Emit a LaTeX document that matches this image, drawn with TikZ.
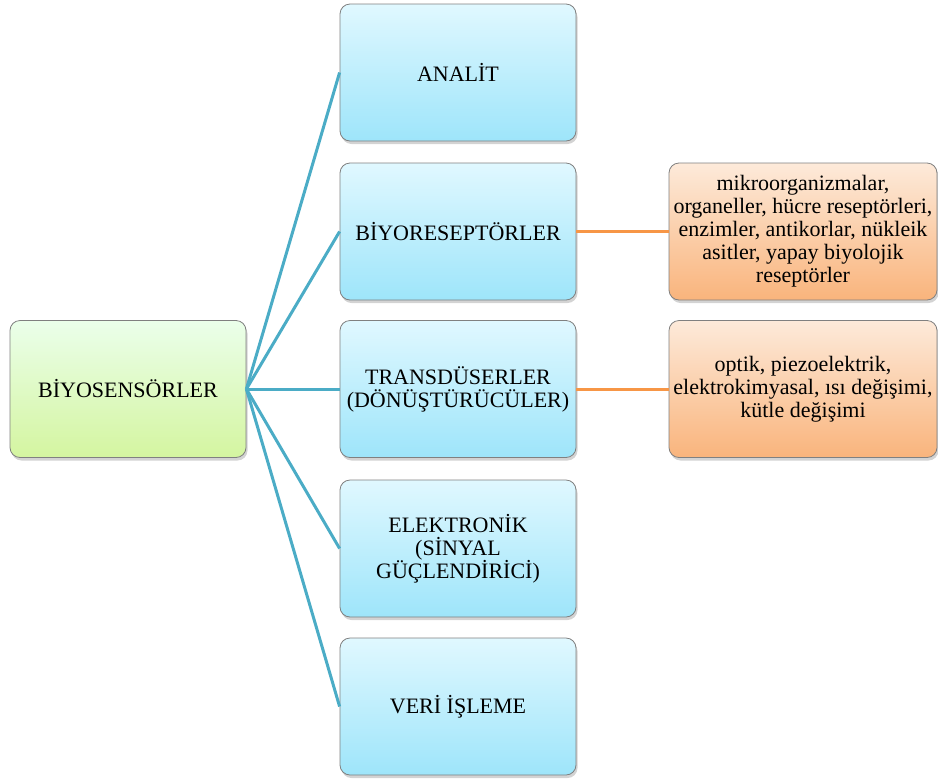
\documentclass[tikz,border=0pt]{standalone}
\usepackage{fontspec}
\setmainfont{Liberation Serif}
\usetikzlibrary{shadows}

\definecolor{linkblue}{HTML}{4BACC6}
\definecolor{linkorange}{HTML}{F79646}

\begin{document}
\begin{tikzpicture}[x=1pt,y=-1pt,
    box/.style={%
      draw=black!50, line width=0.8pt, rounded corners=10pt,
      minimum width=236pt, minimum height=137pt,
      align=center, inner sep=2pt,
      font=\fontsize{22}{23}\selectfont,
      drop shadow={shadow xshift=1.5pt, shadow yshift=-3pt, opacity=0.35}
    },
    rootbox/.style={box, top color=green!8!white, bottom color={rgb,255:red,212;green,245;blue,160}},
    partbox/.style={box, top color={rgb,255:red,224;green,248;blue,255}, bottom color={rgb,255:red,158;green,229;blue,250}},
    notebox/.style={box, minimum width=268pt, top color={rgb,255:red,253;green,234;blue,218}, bottom color={rgb,255:red,249;green,180;blue,124}},
    blueline/.style={draw=linkblue, line width=3pt},
    orangeline/.style={draw=linkorange, line width=3pt}
  ]
    \useasboundingbox (0,0) rectangle (938,780);

    \node[rootbox] (bio) at (128,389) {BİYOSENSÖRLER};

    \node[partbox] (analit)  at (458,72.5)  {ANALİT};
    \node[partbox] (resept)  at (458,231.5) {BİYORESEPTÖRLER};
    \node[partbox] (trans)   at (458,389)   {TRANSDÜSERLER\\(DÖNÜŞTÜRÜCÜLER)};
    \node[partbox] (elekt)   at (458,548.5) {ELEKTRONİK\\(SİNYAL\\GÜÇLENDİRİCİ)};
    \node[partbox] (veri)    at (458,706.5) {VERİ İŞLEME};

    \node[notebox] (receptors) at (803,231.5) {mikroorganizmalar,\\organeller, hücre reseptörleri,\\enzimler, antikorlar, nükleik\\asitler, yapay biyolojik\\reseptörler};
    \node[notebox] (methods)   at (803,389)   {optik, piezoelektrik,\\elektrokimyasal, ısı değişimi,\\kütle değişimi};

    \foreach \n in {analit,resept,trans,elekt,veri}
      \path[blueline] (bio.east) -- (\n.west);

    \path[orangeline] (resept.east) -- (receptors.west);
    \path[orangeline] (trans.east)  -- (methods.west);
\end{tikzpicture}
\end{document}
